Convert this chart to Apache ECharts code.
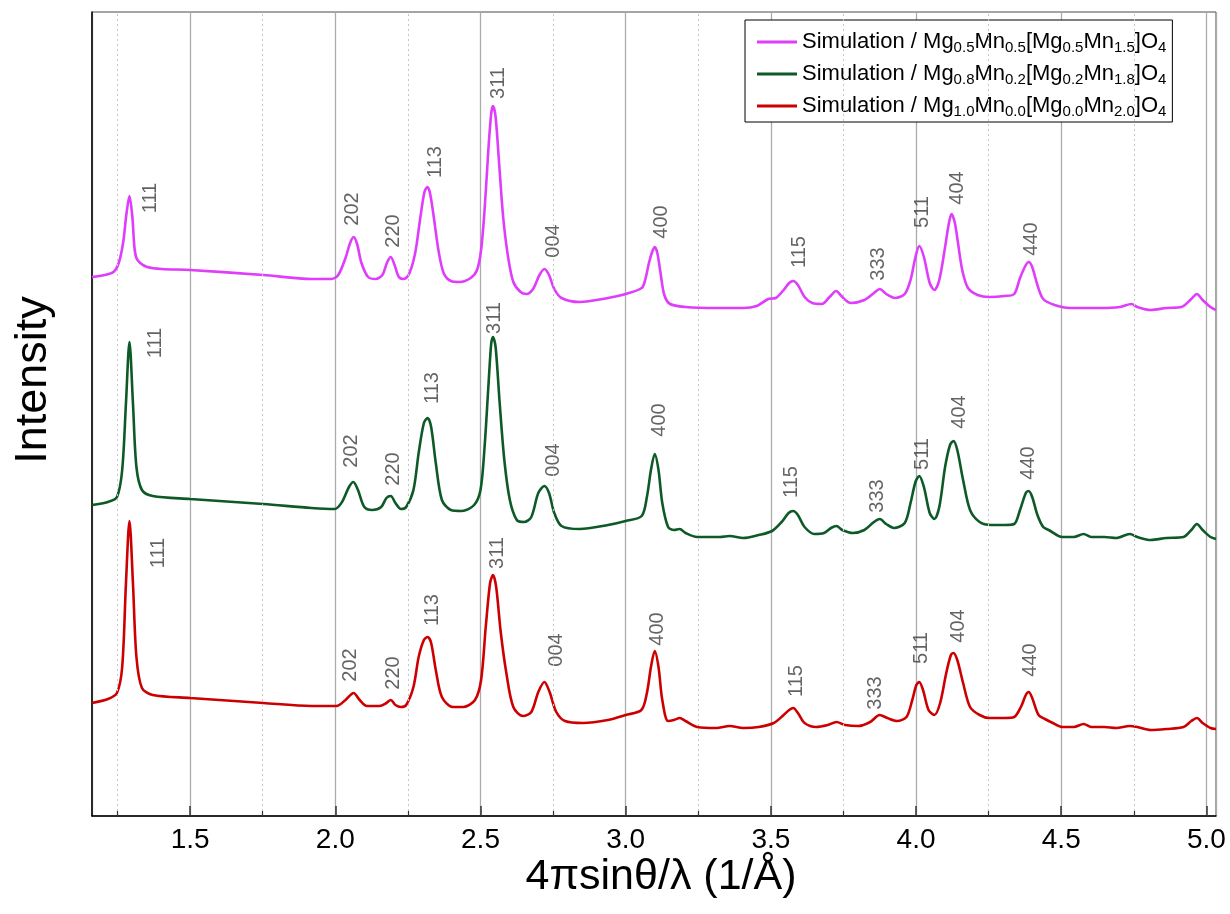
<!DOCTYPE html>
<html>
<head>
<meta charset="utf-8">
<script src="https://cdn.jsdelivr.net/npm/echarts@6/dist/echarts.min.js"></script>
<style>
  html, body { margin: 0; padding: 0; background: #fff; }
  #chart { width: 1230px; height: 914px; }
</style>
</head>
<body>
<div id="chart"></div>
<script>
// Simulated diffraction profiles, x = 4πsinθ/λ (1/Å), intensity in arbitrary (offset) units
const seriesNames = [
  'Simulation / Mg0.5Mn0.5[Mg0.5Mn1.5]O4',
  'Simulation / Mg0.8Mn0.2[Mg0.2Mn1.8]O4',
  'Simulation / Mg1.0Mn0.0[Mg0.0Mn2.0]O4'
];
// subscripts of Mg, Mn, [Mg, Mn] for each composition
const compositions = [
  ['0.5', '0.5', '0.5', '1.5'],
  ['0.8', '0.2', '0.2', '1.8'],
  ['1.0', '0.0', '0.0', '2.0']
];

const hkl = ['111', '202', '220', '113', '311', '004', '400', '115', '333', '511', '404', '440'];

const profileMg05 = [
  [1.162,539],[1.205,541],[1.236,544],[1.254,553],[1.269,573],[1.281,603],[1.291,620],[1.301,599],[1.308,569],[1.315,558],
  [1.328,553],[1.352,549],[1.402,547],[1.5,546],[1.752,541],[1.918,537],[1.986,537],[2.010,541],[2.035,558],[2.051,573],
  [2.063,579],[2.075,572],[2.090,553],[2.113,539],[2.139,537],[2.162,541],[2.179,554],[2.191,559],[2.204,551],[2.219,539],
  [2.236,537],[2.254,542],[2.275,563],[2.293,599],[2.307,624],[2.317,629],[2.326,623],[2.339,599],[2.355,566],[2.373,543],
  [2.398,535],[2.428,534],[2.466,538],[2.488,546],[2.502,566],[2.514,606],[2.527,666],[2.537,703],[2.543,710],[2.552,699],
  [2.564,653],[2.578,599],[2.595,559],[2.613,534],[2.638,524],[2.658,522],[2.681,527],[2.703,541],[2.720,547],[2.736,541],
  [2.754,527],[2.779,518],[2.841,514],[2.939,518],[3.000,522],[3.055,528],[3.067,536],[3.080,553],[3.091,564],[3.100,569],
  [3.109,563],[3.120,543],[3.133,521],[3.153,512],[3.206,509],[3.312,508],[3.405,508],[3.451,510],[3.491,517],[3.517,518],
  [3.544,526],[3.563,533],[3.577,535],[3.593,531],[3.616,519],[3.643,513],[3.676,512],[3.702,519],[3.725,525],[3.746,519],
  [3.775,513],[3.822,516],[3.855,523],[3.875,527],[3.897,522],[3.928,518],[3.961,522],[3.981,536],[3.998,559],[4.011,570],
  [4.027,559],[4.047,533],[4.063,526],[4.080,536],[4.100,569],[4.112,591],[4.122,602],[4.133,594],[4.143,576],[4.159,546],
  [4.179,528],[4.212,521],[4.252,519],[4.305,520],[4.338,522],[4.358,538],[4.378,551],[4.388,554],[4.400,549],[4.418,531],
  [4.438,517],[4.477,511],[4.530,508],[4.636,508],[4.702,509],[4.742,512],[4.762,509],[4.808,506],[4.862,508],[4.914,509],
  [4.948,517],[4.967,522],[4.987,516],[5.014,509],[5.033,506]
];

const profileMg08 = [
  [1.162,311],[1.217,314],[1.248,319],[1.266,346],[1.279,413],[1.291,474],[1.303,413],[1.315,349],[1.334,326],[1.371,320],
  [1.5,317],[1.752,312],[1.918,308],[1.998,307],[2.023,314],[2.047,329],[2.062,334],[2.078,326],[2.100,309],[2.127,306],
  [2.158,309],[2.176,318],[2.191,320],[2.207,313],[2.226,307],[2.244,309],[2.269,326],[2.287,363],[2.305,393],[2.318,398],
  [2.330,389],[2.346,353],[2.367,316],[2.398,306],[2.435,305],[2.478,311],[2.500,326],[2.514,369],[2.527,429],[2.537,473],
  [2.543,479],[2.552,469],[2.566,413],[2.582,356],[2.601,316],[2.625,296],[2.650,294],[2.675,299],[2.699,323],[2.720,330],
  [2.736,323],[2.754,303],[2.779,290],[2.841,287],[2.939,291],[3.000,295],[3.055,300],[3.073,319],[3.087,346],[3.100,362],
  [3.113,346],[3.126,313],[3.146,289],[3.166,286],[3.186,287],[3.206,283],[3.246,279],[3.325,279],[3.358,280],[3.405,278],
  [3.458,281],[3.504,285],[3.537,294],[3.561,303],[3.577,305],[3.593,301],[3.616,289],[3.650,282],[3.683,283],[3.707,288],
  [3.726,290],[3.746,286],[3.782,283],[3.822,286],[3.855,294],[3.875,297],[3.897,292],[3.924,288],[3.961,293],[3.981,313],
  [3.998,334],[4.011,340],[4.027,329],[4.047,303],[4.063,297],[4.080,309],[4.100,349],[4.117,371],[4.129,375],[4.142,366],
  [4.162,336],[4.186,306],[4.219,294],[4.259,291],[4.305,291],[4.338,292],[4.358,306],[4.378,323],[4.388,325],[4.400,319],
  [4.418,301],[4.438,289],[4.457,286],[4.504,279],[4.543,279],[4.577,282],[4.603,279],[4.649,279],[4.689,278],[4.736,282],
  [4.762,279],[4.808,276],[4.862,278],[4.921,279],[4.948,286],[4.967,292],[4.987,286],[5.014,279],[5.033,277]
];

const profileMg10 = [
  [1.162,113],[1.217,117],[1.248,123],[1.266,149],[1.279,233],[1.291,295],[1.303,233],[1.315,159],[1.334,128],[1.371,121],
  [1.5,118],[1.752,113],[1.918,110],[2.004,110],[2.035,116],[2.063,123],[2.084,116],[2.109,110],[2.152,110],[2.176,113],
  [2.191,116],[2.207,111],[2.226,109],[2.244,111],[2.269,129],[2.287,159],[2.305,176],[2.318,179],[2.330,173],[2.346,146],
  [2.367,119],[2.404,109],[2.441,109],[2.481,116],[2.502,136],[2.518,189],[2.533,233],[2.543,241],[2.554,229],[2.570,183],
  [2.589,143],[2.613,109],[2.646,100],[2.675,104],[2.699,124],[2.720,134],[2.738,124],[2.761,104],[2.791,95],[2.853,93],
  [2.939,96],[3.000,101],[3.054,106],[3.073,123],[3.087,149],[3.100,165],[3.113,149],[3.126,116],[3.146,95],[3.166,96],
  [3.186,98],[3.206,95],[3.246,89],[3.312,88],[3.358,90],[3.405,88],[3.458,89],[3.510,93],[3.544,101],[3.563,106],
  [3.577,108],[3.593,103],[3.616,93],[3.656,89],[3.696,91],[3.726,94],[3.756,91],[3.802,90],[3.842,94],[3.875,101],
  [3.901,98],[3.934,95],[3.967,99],[3.987,116],[4.001,131],[4.011,134],[4.024,126],[4.043,106],[4.063,101],[4.083,113],
  [4.104,143],[4.120,161],[4.129,163],[4.142,156],[4.162,133],[4.186,109],[4.219,101],[4.252,98],[4.305,98],[4.338,99],
  [4.361,109],[4.378,121],[4.388,124],[4.400,118],[4.422,101],[4.444,97],[4.471,93],[4.504,89],[4.543,89],[4.577,92],
  [4.603,89],[4.649,89],[4.689,88],[4.736,90],[4.762,89],[4.808,86],[4.862,87],[4.921,89],[4.948,95],[4.967,98],
  [4.987,93],[5.014,88],[5.033,87]
];

// where each reflection's index is written, per profile (same order as hkl)
const hklAnchorsMg05 = [
  [1.362,618],[2.058,607],[2.199,585],[2.344,654],[2.561,733],[2.752,575],
  [3.122,594],[3.597,564],[3.869,552],[4.021,604],[4.141,628],[4.399,577]
];
const hklAnchorsMg08 = [
  [1.381,473],[2.054,365],[2.202,347],[2.333,428],[2.547,498],[2.750,356],
  [3.115,396],[3.570,334],[3.866,320],[4.021,362],[4.151,404],[4.386,353]
];
const hklAnchorsMg10 = [
  [1.390,263],[2.051,151],[2.202,143],[2.335,206],[2.557,263],[2.762,166],
  [3.108,187],[3.587,135],[3.862,123],[4.017,168],[4.145,190],[4.393,156]
];

// half-step positions between the labelled ticks
const minorGrid = [1.25, 1.75, 2.25, 2.75, 3.25, 3.75, 4.25, 4.75];
const minorTickLength = 5;

const colors = ['#df3cfb', '#0d5a27', '#cc0000'];

const profiles = [profileMg05, profileMg08, profileMg10];
const anchors = [hklAnchorsMg05, hklAnchorsMg08, hklAnchorsMg10];

const FONT = 'Liberation Sans, Arial, sans-serif';

function legendLabel(name) {
  const i = seriesNames.indexOf(name);
  const c = compositions[i];
  return 'Simulation / Mg{s|' + c[0] + '}Mn{s|' + c[1] + '}[Mg{s|' + c[2] + '}Mn{s|' + c[3] + '}]O{s|4}';
}

const series = [];

// dotted half-step gridlines
series.push({
  type: 'line',
  data: [],
  z: 1,
  silent: true,
  markLine: {
    silent: true,
    symbol: ['none', 'none'],
    label: { show: false },
    animation: false,
    lineStyle: { type: [2, 3], color: '#c6c6c6', width: 1 },
    data: minorGrid.map(v => ({ xAxis: v }))
  }
});

// short inner minor ticks on the bottom axis
series.push({
  type: 'line',
  data: [],
  z: 2,
  silent: true,
  markLine: {
    silent: true,
    symbol: ['none', 'none'],
    label: { show: false },
    animation: false,
    lineStyle: { type: 'solid', color: '#333', width: 1.2 },
    data: minorGrid.map(v => [{ coord: [v, 0] }, { coord: [v, minorTickLength] }])
  }
});

profiles.forEach((p, i) => {
  series.push({
    name: seriesNames[i],
    type: 'line',
    data: p,
    showSymbol: false,
    symbol: 'none',
    smooth: 0.3,
    z: 3,
    lineStyle: { color: colors[i], width: 2.6 },
    itemStyle: { color: colors[i] },
    animation: false
  });
});

anchors.forEach((a) => {
  series.push({
    type: 'scatter',
    silent: true,
    z: 4,
    symbolSize: 0.1,
    itemStyle: { color: 'rgba(0,0,0,0)' },
    data: a.map((pt, k) => ({ value: pt, name: hkl[k] })),
    label: {
      show: true,
      position: 'inside',
      rotate: 90,
      formatter: '{b}',
      fontFamily: FONT,
      fontSize: 20,
      color: '#3c3c3c'
    },
    animation: false
  });
});

const chart = echarts.init(document.getElementById('chart'), null, { renderer: 'canvas' });
chart.setOption({
  backgroundColor: '#ffffff',
  animation: false,
  grid: {
    left: 92, right: 14, top: 12, bottom: 98,
    show: true, borderColor: '#4a4a4a', borderWidth: 1
  },
  legend: {
    data: seriesNames,
    orient: 'vertical',
    left: 745,
    top: 20,
    icon: 'rect',
    itemWidth: 40,
    itemHeight: 3,
    itemGap: 6,
    padding: [9, 6, 3, 12],
    borderColor: '#000',
    borderWidth: 1,
    backgroundColor: '#fff',
    formatter: legendLabel,
    textStyle: {
      fontFamily: FONT,
      fontSize: 22,
      color: '#000',
      lineHeight: 26,
      rich: {
        s: { fontSize: 15, lineHeight: 14, verticalAlign: 'bottom', color: '#000', fontFamily: FONT }
      }
    }
  },
  xAxis: {
    type: 'value',
    min: 1.162,
    max: 5.033,
    splitNumber: 8,
    name: '4πsinθ/λ (1/Å)',
    nameLocation: 'middle',
    nameMoveOverlap: false,
    nameGap: 83,
    nameTextStyle: {
      fontFamily: FONT, fontSize: 43, color: '#000',
      verticalAlign: 'bottom', padding: [0, 0, 0, 14]
    },
    axisLine: { onZero: false, lineStyle: { color: '#000', width: 1.5 } },
    axisTick: { inside: true, length: 10, lineStyle: { color: '#333', width: 1.5 } },
    axisLabel: {
      fontFamily: FONT,
      fontSize: 28,
      color: '#000',
      margin: 10,
      showMinLabel: false,
      showMaxLabel: false,
      formatter: v => v.toFixed(1)
    },
    splitLine: { show: true, lineStyle: { color: '#ababab', width: 1.3 } }
  },
  yAxis: {
    type: 'value',
    min: 0,
    max: 804,
    name: 'Intensity',
    nameLocation: 'middle',
    nameMoveOverlap: false,
    nameGap: 36,
    nameTextStyle: { fontFamily: FONT, fontSize: 45, color: '#000', padding: [0, 0, 0, 68] },
    axisLine: { show: true, lineStyle: { color: '#000', width: 1.5 } },
    axisTick: { show: false },
    axisLabel: { show: false },
    splitLine: { show: false }
  },
  series: series
});
</script>
</body>
</html>
